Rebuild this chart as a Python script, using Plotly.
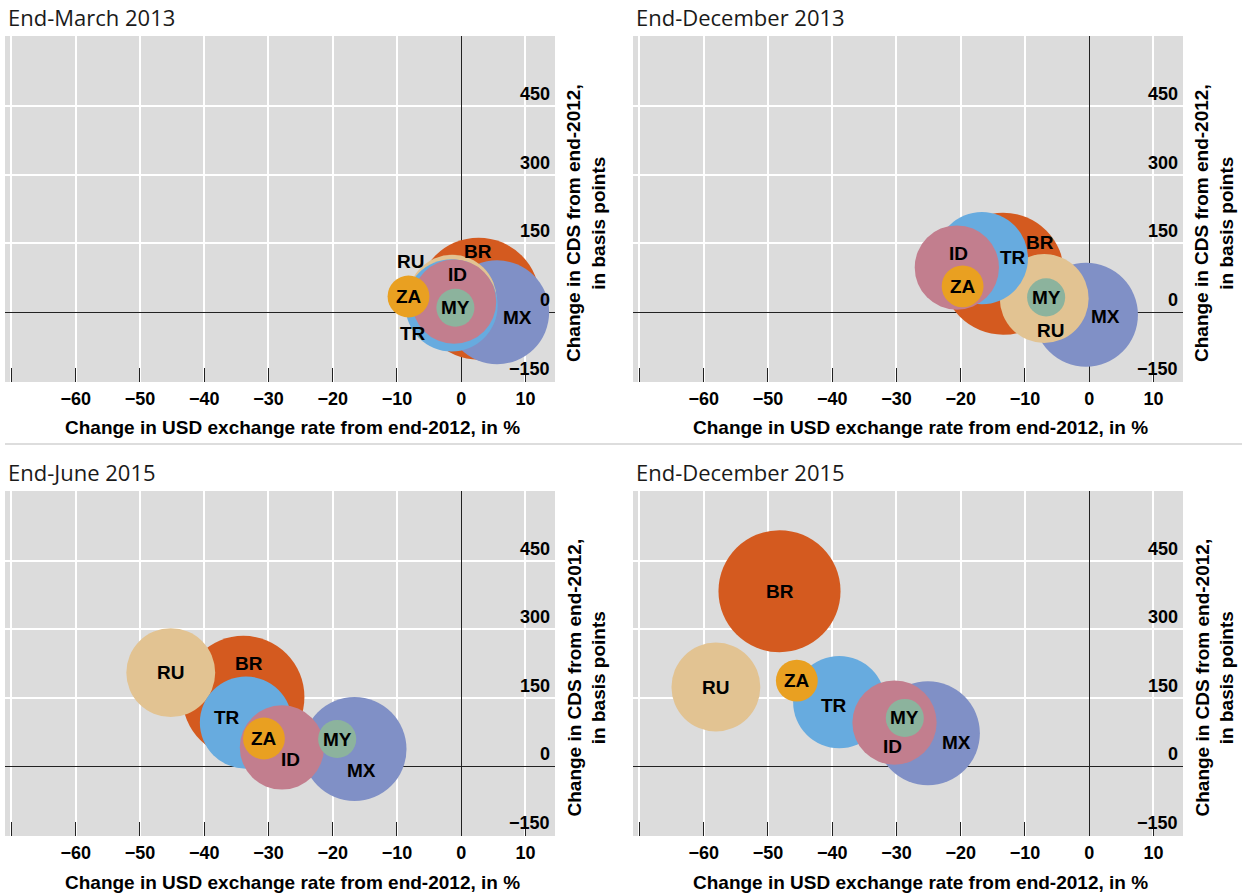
import plotly.graph_objects as go
import numpy as np

# ---------------- data ----------------
countries = ["BR", "MX", "RU", "TR", "ID", "ZA", "MY"]          # drawing order (back to front)
bubble_weight = [149, 108, 79, 85, 71, 17.5, 14.5]              # relative bubble area

panel_titles = ["End-March 2013", "End-December 2013", "End-June 2015", "End-December 2015"]

fx_mar13 = [2.7, 5.6, -1.4, -1.5, -1.1, -8.2, -0.9]
cds_mar13 = [29.5, 0.0, 28.4, 14.8, 23.0, 34.3, 9.8]

fx_dec13 = [-13.4, -0.5, -7.0, -16.7, -20.6, -19.7, -6.7]
cds_dec13 = [84.0, -5.5, 30.0, 118.0, 97.5, 56.5, 32.5]

fx_jun15 = [-33.9, -16.6, -45.2, -33.5, -27.9, -30.7, -19.3]
cds_jun15 = [152.0, 38.0, 205.0, 96.0, 41.5, 61.0, 60.0]

fx_dec15 = [-48.2, -25.1, -58.1, -38.9, -30.3, -45.5, -28.7]
cds_dec15 = [383.0, 72.5, 173.5, 140.5, 96.0, 187.5, 106.0]

x_tickvals = [-70, -60, -50, -40, -30, -20, -10, 0, 10]
x_ticktext = ["", "\u221260", "\u221250", "\u221240", "\u221230", "\u221220", "\u221210", "0", "10"]
y_tickvals = [-150, 0, 150, 300, 450]
y_ticktext = ["\u2212150", "0", "150", "300", "450"]

x_title = "Change in USD exchange rate from end-2012, in %"
y_title = "Change in CDS from end-2012,<br>in basis points"

# ---------------- styles ----------------
COLORS = {"BR": "#D45A1F", "MX": "#8090C6", "RU": "#E2C392", "TR": "#67ABDF",
          "ID": "#C27E8E", "ZA": "#E9A021", "MY": "#8CB39D"}

# label offsets in px (dx right, dy down) relative to bubble centre
LABEL_SHIFT = [
    {"RU": (-42, -38), "BR": (-1, -47), "ID": (3, -27), "MX": (20, 5), "TR": (-39, 28)},
    {"ID": (2, -14), "TR": (31, -1), "BR": (37, -31), "RU": (6, 32), "MX": (20, 2)},
    {"BR": (6, -33), "TR": (-19, -5), "ID": (9, 12), "MX": (7, 21)},
    {"TR": (-5, 3), "ID": (-2, 24), "MX": (29, 9)},
]

W, H = 1242, 895
COLS = [(5, 555), (633, 1183)]
ROWS = [(36, 382), (491, 836)]
XRANGE = [-71, 14.6]
YRANGE = [-152, 602]
SIZEREF = 0.02  # diameter = sqrt(2*w/sizeref)

TXT = "Liberation Sans, Arial, sans-serif"
FONT_TICK = dict(family=TXT, size=18, color="black", weight="bold")
FONT_TITLE = dict(family=TXT, size=19, color="black", weight="bold")
FONT_LABEL = dict(family=TXT, size=19, color="black", weight="bold")
FONT_PANEL = dict(family="Open Sans, Noto Sans, sans-serif", size=22, color="#1a1a1a")

data_x = [fx_mar13, fx_dec13, fx_jun15, fx_dec15]
data_y = [cds_mar13, cds_dec13, cds_jun15, cds_dec15]

fig = go.Figure()
layout = {}
annotations = []

for i in range(4):
    r, c = divmod(i, 2)
    sfx = "" if i == 0 else str(i + 1)
    xa, ya = "x" + sfx, "y" + sfx
    x0, x1 = COLS[c]
    t0, t1 = ROWS[r]
    xdom = [x0 / W, x1 / W]
    ydom = [1 - t1 / H, 1 - t0 / H]

    fig.add_trace(go.Scatter(
        x=data_x[i], y=data_y[i], mode="markers", xaxis=xa, yaxis=ya,
        text=countries, hoverinfo="text+x+y", showlegend=False,
        marker=dict(size=bubble_weight, sizemode="area", sizeref=SIZEREF,
                    color=[COLORS[k] for k in countries], opacity=1,
                    line=dict(width=0)),
    ))

    layout["xaxis" + sfx] = dict(
        domain=xdom, anchor=ya, range=XRANGE, tickmode="array",
        tickvals=x_tickvals, ticktext=x_ticktext, ticks="inside", ticklen=14,
        tickwidth=1.2, tickcolor="#222", showgrid=True, gridcolor="white",
        gridwidth=1.5, zeroline=True, zerolinecolor="#222", zerolinewidth=1.2,
        showline=False, tickfont=FONT_TICK, ticklabelstandoff=4, fixedrange=True,
    )
    layout["yaxis" + sfx] = dict(
        domain=ydom, anchor=xa, range=YRANGE, side="right", tickmode="array",
        tickvals=y_tickvals, ticks="", showticklabels=False,
        showgrid=True, gridcolor="white",
        gridwidth=1.5, zeroline=True, zerolinecolor="#222", zerolinewidth=1.2,
        showline=False, fixedrange=True,
    )

    # y tick labels, drawn inside the plot just above each grid line
    for tv, tt in zip(y_tickvals, y_ticktext):
        annotations.append(dict(text=tt, xref=xa + " domain", yref=ya, x=1, y=tv,
                                xanchor="right", yanchor="bottom", xshift=-3, yshift=0,
                                showarrow=False, font=FONT_TICK))

    # panel title
    annotations.append(dict(text=panel_titles[i], xref="paper", yref="paper",
                            x=(x0 + 1) / W, y=1 - (t0 - 19) / H, xanchor="left",
                            yanchor="middle", showarrow=False, font=FONT_PANEL))
    # x title
    annotations.append(dict(text=x_title, xref="paper", yref="paper",
                            x=((x0 + x1) / 2 + 12) / W, y=1 - (t1 + 46) / H,
                            xanchor="center", yanchor="middle", showarrow=False,
                            font=FONT_TITLE))
    # y title
    annotations.append(dict(text=y_title, xref="paper", yref="paper",
                            x=(x1 + 31) / W, y=1 - ((t0 + t1) / 2 + 14) / H,
                            xanchor="center", yanchor="middle", textangle=-90,
                            showarrow=False, font=FONT_TITLE))
    # bubble labels
    for k, xv, yv in zip(countries, data_x[i], data_y[i]):
        dx, dy = LABEL_SHIFT[i].get(k, (0, 0))
        annotations.append(dict(text=k, xref=xa, yref=ya, x=xv, y=yv,
                                xshift=dx, yshift=-dy, showarrow=False,
                                font=FONT_LABEL))

fig.update_layout(
    width=W, height=H, margin=dict(l=0, r=0, t=0, b=0),
    paper_bgcolor="white", plot_bgcolor="#DCDCDC",
    annotations=annotations,
    shapes=[dict(type="line", xref="paper", yref="paper", x0=5 / W, x1=1,
                 y0=1 - 444 / H, y1=1 - 444 / H, line=dict(color="#BBBBBB", width=1))],
    **layout,
)

fig.write_html("out.html", config={"displayModeBar": False},
               post_script="document.body.style.margin='0';document.body.style.overflow='hidden';")
